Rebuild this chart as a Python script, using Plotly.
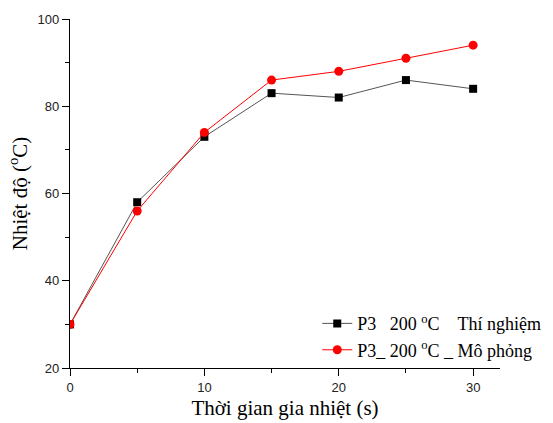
import plotly.graph_objects as go

time_s = [0, 5, 10, 15, 20, 25, 30]
exp_temp = [30, 58, 73, 83, 82, 86, 84]
sim_temp = [30, 56, 74, 86, 88, 91, 94]
NB = "\u00a0"
name_exp = f"P3{NB*3}200{NB}<sup>o</sup>C{NB*4}Thí nghiệm"
name_sim = f"P3_{NB}200{NB}<sup>o</sup>C{NB}_{NB}Mô phỏng"

fig = go.Figure()
fig.add_trace(go.Scatter(x=time_s, y=exp_temp, mode="lines+markers", name=name_exp,
                         line=dict(color="#555555", width=1),
                         marker=dict(symbol="square", size=8, color="black")))
fig.add_trace(go.Scatter(x=time_s, y=sim_temp, mode="lines+markers", name=name_sim,
                         line=dict(color="red", width=1),
                         marker=dict(symbol="circle", size=9, color="red")))

axis_common = dict(showline=True, linecolor="black", linewidth=1.2, showgrid=False, zeroline=False,
                   ticks="outside", ticklen=7, tickcolor="black", tickwidth=1.2,
                   tickfont=dict(family="Liberation Sans, Arial", size=13, color="#222"),
                   title_font=dict(family="Liberation Serif, Times New Roman", size=21, color="black"))

fig.update_xaxes(range=[0, 32], tickmode="linear", tick0=0, dtick=10,
                 minor=dict(tickmode="linear", tick0=0, dtick=5, ticks="outside", ticklen=4,
                            tickcolor="black", tickwidth=1.2, showgrid=False),
                 title_text="Thời gian gia nhiệt (s)", title_standoff=6, **axis_common)
fig.update_yaxes(range=[20, 100], tickmode="linear", tick0=0, dtick=20,
                 minor=dict(tickmode="linear", tick0=0, dtick=10, ticks="outside", ticklen=4,
                            tickcolor="black", tickwidth=1.2, showgrid=False),
                 title_text="Nhiệt độ (<sup>o</sup>C)", title_standoff=4, **axis_common)

fig.update_layout(width=553, height=423, margin=dict(l=70, r=53, t=19, b=55, autoexpand=False),
                  plot_bgcolor="white", paper_bgcolor="white", showlegend=True,
                  legend=dict(x=0.575, y=0.18, xanchor="left", yanchor="top",
                              bgcolor="rgba(0,0,0,0)", tracegroupgap=0,
                              font=dict(family="Liberation Serif, Times New Roman", size=18, color="black"),
                              itemwidth=30))
fig.write_html("out.html")
